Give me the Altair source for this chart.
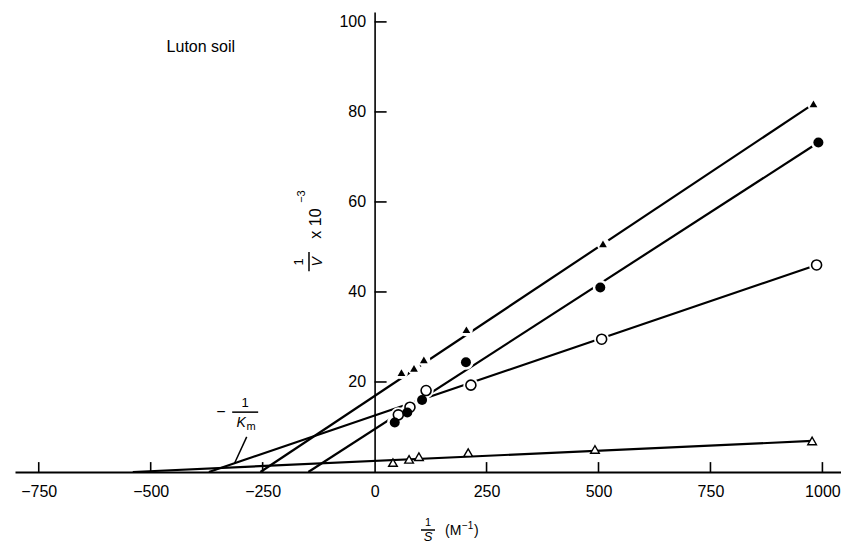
import altair as alt
import pandas as pd

# ---------------- data ----------------
# filled triangles
ft_x = [60, 88, 110, 205, 510, 980]
ft_y = [22.1, 23.0, 24.9, 31.6, 50.7, 81.8]
# filled circles
fc_x = [45, 73, 106, 204, 504, 991]
fc_y = [11.0, 13.2, 16.0, 24.4, 41.0, 73.2]
# open circles
oc_x = [53, 79, 115, 215, 507, 987]
oc_y = [12.7, 14.4, 18.1, 19.3, 29.5, 46.0]
# open triangles
ot_x = [41, 77, 99, 209, 492, 977]
ot_y = [2.1, 2.8, 3.4, 4.3, 5.0, 6.9]

# fitted straight lines (start on the x axis, end at last point)
line_x0 = [-255, -148, -370, -540]
line_y0 = [0, 0, 0, 0]
line_x1 = [980, 991, 987, 977]
line_y1 = [81.8, 73.2, 46.0, 6.9]

x_ticks = [-750, -500, -250, 0, 250, 500, 750, 1000]
x_tick_marks = [-750, -500, -250, 250, 500, 750, 1000]
y_ticks = [20, 40, 60, 80, 100]

# ---------------- layout ----------------
W, H = 826, 460
X_DOM = [-803, 1041.5]
Y_DOM = [0, 102.2]
FONT = "Liberation Sans"
zero_px = W * (0 - X_DOM[0]) / (X_DOM[1] - X_DOM[0])

xs = alt.Scale(domain=X_DOM, nice=False, zero=False)
ys = alt.Scale(domain=Y_DOM, nice=False, zero=False)

x_axis = alt.Axis(values=x_ticks, title=None, grid=False, ticks=False,
                  domainColor="black", domainWidth=2, labelFont=FONT,
                  labelFontSize=16, labelColor="black", labelPadding=11,
                  labelFlush=False, labelOverlap=False, format="d")
y_axis = alt.Axis(values=y_ticks, title=None, grid=False, ticks=False,
                  domainColor="black", domainWidth=1.6, labelFont=FONT,
                  labelFontSize=16, labelColor="black", labelPadding=9,
                  labelOverlap=False, offset=-zero_px, format="d")


def X(f="x"):
    return alt.X(f"{f}:Q", scale=xs, axis=x_axis)


def Y(f="y"):
    return alt.Y(f"{f}:Q", scale=ys, axis=y_axis)


def pts(xv, yv):
    return pd.DataFrame({"x": xv, "y": yv})


# fitted lines
lines_df = pd.DataFrame({"x": line_x0, "y": line_y0, "x2": line_x1, "y2": line_y1})
lines = alt.Chart(lines_df).mark_rule(color="black", strokeWidth=2.2).encode(
    x=X(), y=Y(), x2="x2:Q", y2="y2:Q")

# axis ticks pointing inward
xt_df = pd.DataFrame({"x": x_tick_marks, "y": [0] * len(x_tick_marks),
                      "y2": [2.2] * len(x_tick_marks)})
xticks = alt.Chart(xt_df).mark_rule(color="black", strokeWidth=1.6).encode(
    x=X(), y=Y(), y2="y2:Q")
yt_df = pd.DataFrame({"y": y_ticks, "x": [0] * len(y_ticks),
                      "x2": [26.8] * len(y_ticks)})
yticks = alt.Chart(yt_df).mark_rule(color="black", strokeWidth=1.6).encode(
    x=X(), x2="x2:Q", y=Y())

# white halos to break lines near markers
halo_tri = alt.Chart(pts(ft_x, ft_y)).mark_point(
    shape="circle", filled=True, color="white", size=170, opacity=1).encode(x=X(), y=Y())
halo_circ = alt.Chart(pd.concat([pts(fc_x, fc_y), pts(oc_x, oc_y)])).mark_point(
    shape="circle", filled=True, color="white", size=230, opacity=1).encode(x=X(), y=Y())

ft = alt.Chart(pts(ft_x, ft_y)).mark_point(
    shape="triangle-up", filled=True, color="black", size=60, opacity=1).encode(x=X(), y=Y())
fc = alt.Chart(pts(fc_x, fc_y)).mark_point(
    shape="circle", filled=True, color="black", size=100, opacity=1).encode(x=X(), y=Y())
oc = alt.Chart(pts(oc_x, oc_y)).mark_point(
    shape="circle", filled=True, fill="white", stroke="black", strokeWidth=1.6,
    size=100, opacity=1).encode(x=X(), y=Y())
ot = alt.Chart(pts(ot_x, ot_y)).mark_point(
    shape="triangle-up", filled=True, fill="white", stroke="black", strokeWidth=1.4,
    size=75, opacity=1).encode(x=X(), y=Y())


def txt(xv, yv, s, size=14, style="normal", angle=0, align="center"):
    df = pd.DataFrame({"x": [xv], "y": [yv], "t": [s]})
    return alt.Chart(df).mark_text(font=FONT, fontSize=size, fontStyle=style,
                                   color="black", angle=angle, align=align,
                                   baseline="middle").encode(x=X(), y=Y(), text="t:N")


def seg(x0, y0, x1, y1, w=1.5):
    df = pd.DataFrame({"x": [x0], "y": [y0], "x2": [x1], "y2": [y1]})
    return alt.Chart(df).mark_rule(color="black", strokeWidth=w).encode(
        x=X(), y=Y(), x2="x2:Q", y2="y2:Q")


# "- 1/Km" annotation
km = [
    txt(-343, 13.3, "\u2212", 16),
    txt(-289, 15.4, "1", 13),
    seg(-318, 13.3, -260, 13.3, 1.5),
    txt(-298, 10.9, "K", 14, "italic"),
    txt(-276, 10.0, "m", 11),
    seg(-285.6, 7.8, -313, 1.9, 1.5),
]

# y axis title "1/V x 10^-3" (rotated)
ytitle = [
    txt(-168.8, 46.7, "1", 13, angle=270),
    seg(-146.5, 44.6, -146.5, 48.9, 1.5),
    txt(-126.4, 46.7, "V", 14, "italic", angle=270),
    txt(-130.9, 55.2, "x 10", 16, angle=270),
    txt(-161.9, 61.2, "\u22123", 11, angle=270),
]

luton = txt(-388, 94.4, "Luton soil", 16)


# x axis title (below the plot area, pixel positions)
def ptxt(px, py, s, size=14, style="normal", align="center"):
    df = pd.DataFrame({"t": [s]})
    return alt.Chart(df).mark_text(font=FONT, fontSize=size, fontStyle=style,
                                   color="black", align=align, baseline="middle").encode(
        x=alt.value(px), y=alt.value(py), text="t:N")


xbar = alt.Chart(pd.DataFrame({"k": [0]})).mark_rule(color="black", strokeWidth=1.5).encode(
    x=alt.value(406), x2=alt.value(420), y=alt.value(518))
xtitle = [
    ptxt(413, 511, "1", 11),
    xbar,
    ptxt(413, 525, "S", 13, "italic"),
    ptxt(430, 519, "(M", 14, align="left"),
    ptxt(447, 514, "\u22121", 10, align="left"),
    ptxt(459, 519, ")", 14, align="left"),
]

chart = alt.layer(
    lines, xticks, yticks, halo_tri, halo_circ, ot, oc, fc, ft,
    *km, *ytitle, luton, *xtitle
).properties(
    width=W, height=H,
    padding={"left": 7, "top": 4, "right": 0, "bottom": 72},
    autosize=alt.AutoSizeParams(type="none"),
    background="white",
).configure_view(stroke=None)

chart.save("out.html", embed_options={"renderer": "svg", "actions": False})
